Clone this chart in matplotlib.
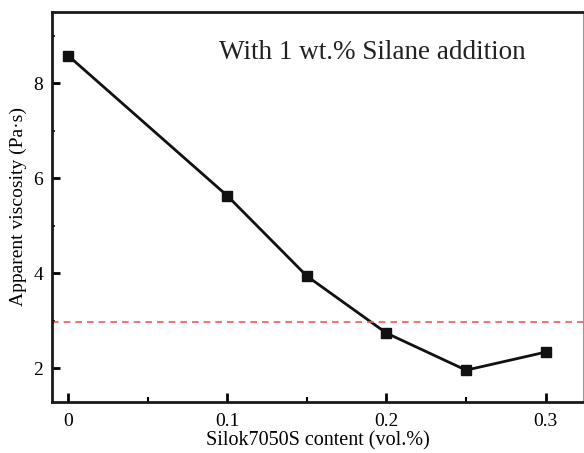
import matplotlib
matplotlib.use("Agg")
import matplotlib.pyplot as plt
from matplotlib.ticker import MultipleLocator

plt.rcParams['font.family'] = ['Liberation Serif', 'DejaVu Serif']

# data
content = [0, 0.1, 0.15, 0.2, 0.25, 0.3]
viscosity = [8.58, 5.63, 3.94, 2.74, 1.96, 2.34]
ref_level = 2.97

fig = plt.figure(figsize=(5.84, 4.53), dpi=100)
ax = fig.add_axes([52 / 584, 1 - 402 / 453, (583 - 52) / 584, (402 - 12) / 453])

ax.plot(content, viscosity, color='#111111', lw=2, marker='s', ms=7.5,
        markerfacecolor='#111111', markeredgecolor='#111111')
ax.axhline(ref_level, color='#f05a5a', lw=1.2, ls=(0, (4, 3)))

ax.set_xlim(-0.0102, 0.3235)
ax.set_ylim(1.29, 9.5)

ax.xaxis.set_major_locator(MultipleLocator(0.1))
ax.xaxis.set_minor_locator(MultipleLocator(0.05))
ax.yaxis.set_major_locator(MultipleLocator(2))
ax.yaxis.set_minor_locator(MultipleLocator(1))
ax.set_xticks([0, 0.1, 0.2, 0.3])
ax.set_xticklabels(['0', '0.1', '0.2', '0.3'])

ax.tick_params(axis='x', which='major', direction='in', length=6.5, width=2,
               labelsize=14, pad=8, top=False)
ax.tick_params(axis='x', which='minor', direction='in', length=3.5, width=1.5, top=False)
ax.tick_params(axis='y', which='major', direction='in', length=6, width=2,
               labelsize=14, pad=6.5, right=False)
ax.tick_params(axis='y', which='minor', direction='in', length=2, width=1.2, right=False)

for side in ['left', 'bottom', 'top']:
    ax.spines[side].set_linewidth(2)
    ax.spines[side].set_color('#1a1a1a')
ax.spines['right'].set_linewidth(0.8)
ax.spines['right'].set_color('#999999')

ax.set_xlabel('Silok7050S content (vol.%)', fontsize=14.5, labelpad=1)
ax.set_ylabel('Apparent viscosity (Pa·s)', fontsize=14)
ax.yaxis.set_label_coords(-0.048, 0.5)

ax.text(0.315, 0.88, 'With 1 wt.% Silane addition', transform=ax.transAxes,
        fontsize=19.5, color='#222222', va='baseline', ha='left')

fig.savefig('out.png', dpi=100)
